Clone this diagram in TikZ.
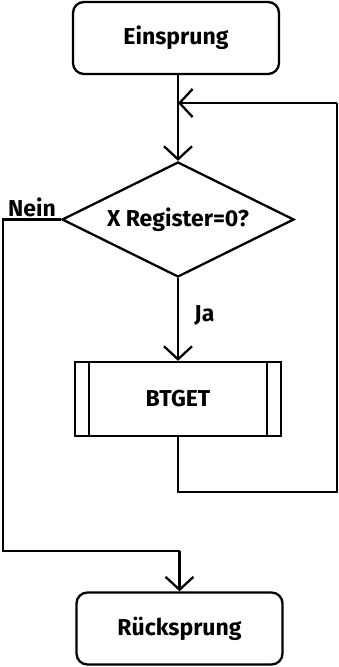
\documentclass[tikz,border=0pt]{standalone}
\usepackage{fontspec}
\setmainfont{Fira Sans}
\usetikzlibrary{arrows.meta,shapes.geometric}
\begin{document}
\begin{tikzpicture}[x=1pt,y=-1pt,
  line width=2.3pt,
  lbl/.style={font=\bfseries\fontsize{23}{26}\selectfont},
  terminal/.style={draw,rounded corners=11pt,minimum width=206pt,minimum height=72pt,inner sep=0pt,lbl},
  decision/.style={draw,diamond,aspect=2,minimum width=232pt,minimum height=115pt,inner sep=0pt,lbl},
  subproc/.style={draw,rectangle,minimum width=206pt,minimum height=74pt,inner sep=0pt,lbl},
  flow/.style={-{Straight Barb[length=13pt,width=28pt,line width=2.3pt]}}
]
\useasboundingbox (0,0) rectangle (339,667);

\node[terminal] (start) at (176,38) {Einsprung};
\node[decision] (test) at (178,219.5) {X Register=0?};
\node[subproc] (sub) at (178,399) {BTGET};
\node[terminal] (end) at (179.5,628.5) {Rücksprung};

% side bars of the subroutine box
\draw ([xshift=15pt]sub.north west) -- ([xshift=15pt]sub.south west);
\draw ([xshift=-15pt]sub.north east) -- ([xshift=-15pt]sub.south east);

\coordinate (merge) at (178,103);
\coordinate (loopR) at (337,103);
\coordinate (loopB) at (337,492);
\coordinate (subB) at (178,492);
\coordinate (noL) at (3,219.5);
\coordinate (noB) at (3,551);
\coordinate (endT) at (179.5,551);

\draw (start.south -| merge) -- (merge);
\draw[flow] (merge) -- (test.north);
\draw[flow] (loopR) -- (merge);
\draw (sub.south) -- (subB) -- (loopB) -- (loopR);
\draw[flow] (test.south) -- node[lbl,right=12pt,pos=0.45] {Ja} (sub.north);
\draw (test.west) -- node[lbl,above=-2pt,pos=0.5] {Nein} (noL) -- (noB) -- (endT);
\draw[flow] (endT) -- (end.north);
\end{tikzpicture}
\end{document}
